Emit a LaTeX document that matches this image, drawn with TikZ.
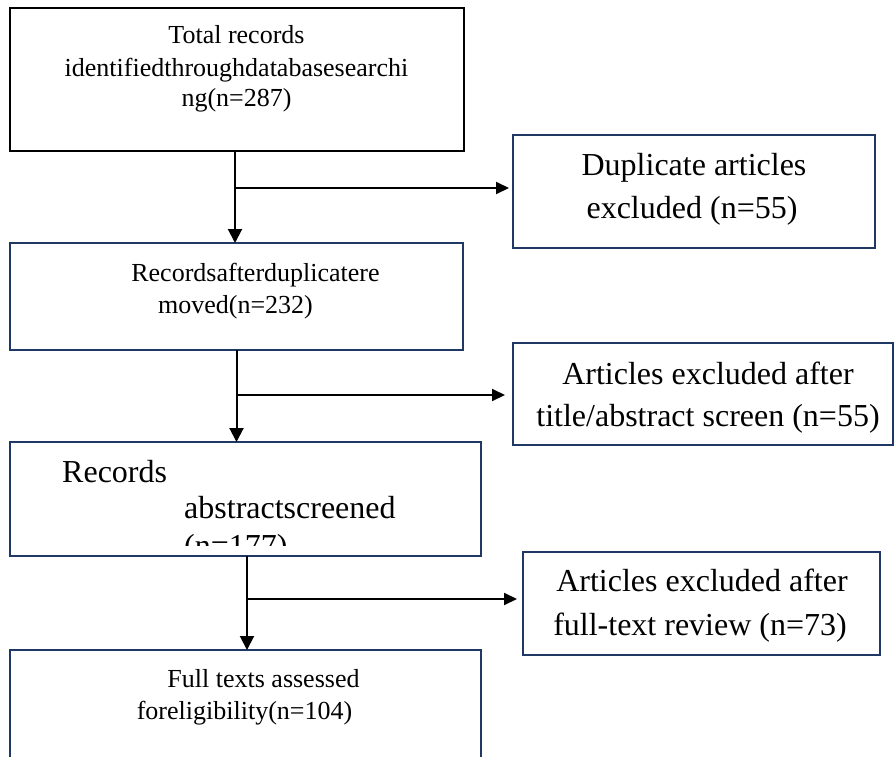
\documentclass[tikz,border=0pt]{standalone}
\usepackage{fontspec}
\setmainfont{Liberation Serif}
\usetikzlibrary{arrows.meta,calc}
\definecolor{navy}{RGB}{32,56,100}
\begin{document}
\begin{tikzpicture}[x=1pt,y=-1pt,
  box/.style={draw=navy, line width=1.8pt, rectangle, inner sep=0pt, outer sep=0pt},
  lbl/.style={inner sep=0pt, anchor=base, font=\fontsize{26}{30}\selectfont},
  big/.style={inner sep=0pt, anchor=base, font=\fontsize{32}{38}\selectfont},
  flow/.style={line width=2pt, -{Triangle[length=14pt,width=14pt]}},
  branch/.style={line width=2pt, -{Triangle[length=13pt,width=12pt]}}]
\useasboundingbox (0,0) rectangle (895,756);
% boxes
\node[box, draw=black, minimum width=454pt, minimum height=143pt] (b1) at (237,79.5) {};
\node[box, minimum width=362pt, minimum height=113pt] (r1) at (694,191.5) {};
\node[box, minimum width=453pt, minimum height=107pt] (b2) at (236.5,296.5) {};
\node[box, minimum width=380pt, minimum height=102pt] (r2) at (703,394) {};
\node[box, minimum width=471pt, minimum height=114pt] (b3) at (245.5,499) {};
\node[box, minimum width=357pt, minimum height=103pt] (r3) at (701.5,603.5) {};
\node[box, minimum width=471pt, minimum height=140pt] (b4) at (245.5,720) {};
% texts
\node[lbl] (t1a) at (236.5,43) {Total records};
\node[lbl] (t1b) at (236.5,76) {identifiedthroughdatabasesearchi};
\node[lbl] (t1c) at (236.5,106) {ng(n=287)};
\node[lbl] (t2a) at (255.5,281) {Recordsafterduplicatere};
\node[lbl] (t2b) at (235.5,313) {moved(n=232)};
\node[big] (tr1a) at (694,175) {Duplicate articles};
\node[big] (tr1b) at (692,218) {excluded (n=55)};
\node[big] (tr2a) at (708,384) {Articles excluded after};
\node[big] (tr2b) at (708,426) {title/abstract screen (n=55)};
\node[big, anchor=base west] (t3a) at (62,482) {Records};
\node[big, anchor=base west] (t3b) at (184,518) {abstractscreened};
\begin{scope}
  \clip (10,442) rectangle (481,545);
  \node[big, anchor=base west] (t3c) at (184,556) {(n=177)};
\end{scope}
\node[big] (tr3a) at (702,591) {Articles excluded after};
\node[big] (tr3b) at (700,635) {full-text review (n=73)};
\node[lbl] (t4a) at (263.5,687) {Full texts assessed};
\node[lbl] (t4b) at (244.5,719) {foreligibility(n=104)};
% connectors
\draw[flow] ([xshift=-2pt]b1.south) -- ([xshift=-2pt]b1.south |- b2.north);
\coordinate (j1) at (236,188);
\draw[branch] (j1) -- ([xshift=-4pt]j1 -| r1.west);
\draw[flow] (b2.south) -- (b2.south |- b3.north);
\coordinate (j2) at (237,395);
\draw[branch] (j2) -- ([xshift=-8pt]j2 -| r2.west);
\draw[flow] ([xshift=1.5pt]b3.south) -- ([xshift=1.5pt]b3.south |- b4.north);
\coordinate (j3) at (247,599);
\draw[branch] (j3) -- ([xshift=-6pt]j3 -| r3.west);
\end{tikzpicture}
\end{document}
